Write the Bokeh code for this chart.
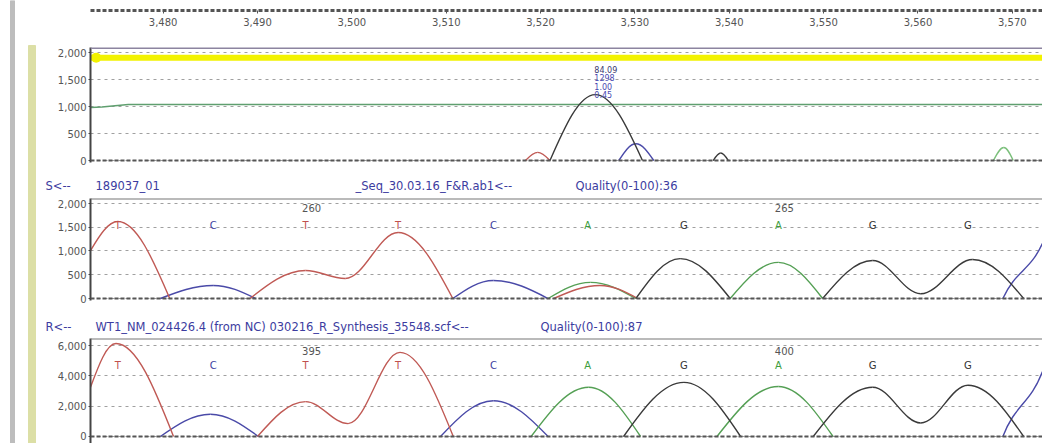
from bokeh.plotting import figure
from bokeh.layouts import row, column
from bokeh.models import Range1d, FixedTicker, NumeralTickFormatter, ColumnDataSource, Span
from bokeh.core.properties import value
from bokeh.embed import file_html
from bokeh.resources import INLINE

# ---------------- data ----------------
scan_ticks = [3480, 3490, 3500, 3510, 3520, 3530, 3540, 3550, 3560, 3570]
x_view = [3472.3, 3573.2]

# top panel (quality / peak view)
top_black_x = [3521.0, 3525.8, 3530.8, 3538.3, 3539.1, 3539.9]
top_black_y = [0, 1220, 0, 0, 140, 0]
top_red_x = [3518.4, 3519.7, 3521.0]
top_red_y = [0, 150, 0]
top_blue_x = [3528.3, 3530.1, 3532.0]
top_blue_y = [0, 310, 0]
top_green_x = [3568.0, 3569.1, 3570.1]
top_green_y = [0, 240, 0]
top_level_x = [3472.3, 3473.5, 3476.3, 3573.2]
top_level_y = [980, 990, 1037, 1037]
top_yellow_x = [3472.3, 3573.2]
top_yellow_y = [1905, 1905]
peak_info = ["0.45", "1.00", "1298", "84.09"]

# sample trace S
S_header = ["S<--", "189037_01", "_Seq_30.03.16_F&R.ab1<--", "Quality(0-100):36"]
S_T_x = [3472.3, 3475.2, 3480.7, 3489.2, 3495.1, 3499.3, 3504.9, 3510.7, 3521.4, 3526.3, 3530.3]
S_T_y = [1010, 1620, 0, 0, 590, 420, 1390, 0, 0, 275, 0]
S_C_x = [3479.7, 3485.3, 3489.8, 3510.7, 3515.0, 3520.8, 3569.0, 3573.2]
S_C_y = [0, 275, 0, 0, 380, 0, 0, 1160]
S_A_x = [3520.8, 3525.3, 3530.1, 3540.1, 3545.2, 3549.9]
S_A_y = [0, 340, 0, 0, 760, 0]
S_G_x = [3530.1, 3534.8, 3540.1, 3549.9, 3555.2, 3560.3, 3565.8, 3571.2]
S_G_y = [0, 840, 0, 0, 800, 100, 820, 0]
S_index_labels = ["260", "265"]

# reference trace R
R_header = ["R<--", "WT1_NM_024426.4 (from NC) 030216_R_Synthesis_35548.scf<--", "Quality(0-100):87"]
R_T_x = [3472.3, 3475.0, 3481.1, 3490.0, 3495.1, 3499.6, 3505.1, 3510.75]
R_T_y = [3250, 6130, 0, 0, 2300, 850, 5550, 0]
R_C_x = [3479.7, 3485.0, 3490.1, 3509.4, 3515.0, 3520.8, 3569.0, 3573.2]
R_C_y = [0, 1470, 0, 0, 2360, 0, 0, 4280]
R_A_x = [3519.0, 3525.1, 3530.6, 3538.7, 3545.2, 3551.0]
R_A_y = [0, 3250, 0, 0, 3300, 0]
R_G_x = [3528.8, 3535.2, 3541.2, 3548.9, 3555.2, 3560.3, 3565.3, 3571.2]
R_G_y = [0, 3570, 0, 0, 3250, 890, 3380, 0]
R_index_labels = ["395", "400"]

bases = ["T", "C", "T", "T", "C", "A", "G", "A", "G", "G"]
base_x = [3475.2, 3485.3, 3495.1, 3504.9, 3515.0, 3525.0, 3535.2, 3545.2, 3555.2, 3565.3]
index_base_pos = [2, 7]

ticks_2000 = [0, 500, 1000, 1500, 2000]
ticks_6000 = [0, 2000, 4000, 6000]

# ---------------- styles / layout ----------------
FONT = "DejaVu Sans"
COL = {"T": "#c05a55", "C": "#4a4aa8", "A": "#55a055", "G": "#3a3a3a"}
LBL = {"T": "#c0504d", "C": "#4040a0", "A": "#3c9c3c", "G": "#333333"}
HDR_COLOR = "#3c3ca0"
W = 999          # column width (page x 43..1042)
BORDER_L = 47    # frame starts at page x 90
FRAME_X = (90, 1042)


def trace_source(xs, ys):
    d = dict(x0=[], y0=[], x1=[], y1=[], cx0=[], cy0=[], cx1=[], cy1=[])
    n = len(xs)
    for i in range(n - 1):
        xa, ya, xb, yb = xs[i], ys[i], xs[i + 1], ys[i + 1]
        if ya == 0 and yb == 0:
            continue
        dx, dy = xb - xa, yb - ya
        if ya == 0 or i == 0:
            c0 = (xa + 0.326 * dx, ya + 0.512 * dy)
        else:
            c0 = (xa + 0.36 * dx, ya)
        if yb == 0 or i + 1 == n - 1:
            c1 = (xb - 0.326 * dx, yb - 0.512 * dy)
        else:
            c1 = (xb - 0.36 * dx, yb)
        d["x0"].append(xa); d["y0"].append(ya)
        d["x1"].append(xb); d["y1"].append(yb)
        d["cx0"].append(c0[0]); d["cy0"].append(c0[1])
        d["cx1"].append(c1[0]); d["cy1"].append(c1[1])
    return ColumnDataSource(d)


def draw_trace(p, xs, ys, color, width=1.4):
    p.bezier(x0="x0", y0="y0", x1="x1", y1="y1", cx0="cx0", cy0="cy0",
             cx1="cx1", cy1="cy1", source=trace_source(xs, ys),
             line_color=color, line_width=width)


def make_panel(frame_h, bottom_border, y0, y1, ticks, top_color, top_width):
    p = figure(width=W, height=frame_h + bottom_border, x_range=Range1d(*x_view),
               y_range=Range1d(y0, y1),
               output_backend="svg", toolbar_location=None, x_axis_location=None,
               min_border_left=BORDER_L, min_border_right=0, min_border_top=0,
               min_border_bottom=bottom_border)
    p.outline_line_color = None
    p.xgrid.visible = False
    p.yaxis.ticker = FixedTicker(ticks=ticks)
    p.yaxis.formatter = NumeralTickFormatter(format="0,0")
    p.yaxis.major_label_text_font = FONT
    p.yaxis.major_label_text_font_size = "10px"
    p.yaxis.major_label_text_color = "#555555"
    p.yaxis.axis_line_color = "#444444"
    p.yaxis.axis_line_width = 2
    p.yaxis.major_tick_in = 0
    p.yaxis.major_tick_out = 2
    p.yaxis.major_tick_line_color = "#444444"
    p.yaxis.minor_tick_line_color = None
    p.yaxis.major_label_standoff = 2
    p.ygrid.grid_line_color = "#a0a0a0"
    p.ygrid.grid_line_dash = "3 4"
    p.ygrid.grid_line_width = 1
    p.add_layout(Span(location=0, dimension="width", line_color="#555555",
                      line_width=2, line_dash="4 2"))
    p.add_layout(Span(location=y1, dimension="width", line_color=top_color,
                      line_width=top_width))
    return p


def make_header(y_top, y_bottom, texts, xs, ypos):
    # ranges in page pixels; texts drawn at annotation level (not clipped to frame)
    h = figure(width=W, height=y_bottom - y_top, x_range=Range1d(*FRAME_X),
               y_range=Range1d(y_bottom, y_top),
               output_backend="svg", toolbar_location=None, x_axis_location=None,
               y_axis_location=None, min_border_left=BORDER_L, min_border_right=0,
               min_border_top=0, min_border_bottom=0)
    h.outline_line_color = None
    h.grid.visible = False
    h.text(x=xs, y=[ypos] * len(texts), text=texts, text_font=value(FONT),
           text_font_size="11.5px", text_color=HDR_COLOR, text_baseline="middle",
           text_align="left", level="annotation")
    return h


def add_bases(p, row_y, idx_y, idx_labels):
    p.text(x=base_x, y=[row_y] * len(bases), text=bases,
           text_color=[LBL[b] for b in bases], text_font=value(FONT),
           text_font_size="10px", text_align="center", text_baseline="middle")
    p.text(x=[base_x[i] for i in index_base_pos], y=[idx_y] * len(idx_labels),
           text=idx_labels, x_offset=6, text_color="#555555", text_font=value(FONT),
           text_font_size="10px", text_align="center", text_baseline="middle")


# ---------------- top axis (page y 0..47) ----------------
top = figure(width=W, height=47, x_range=Range1d(*x_view), y_range=Range1d(0, 1),
             output_backend="svg", toolbar_location=None, y_axis_location=None,
             min_border_left=BORDER_L, min_border_right=0, min_border_top=8,
             min_border_bottom=37)
top.outline_line_color = None
top.grid.visible = False
top.xaxis.ticker = FixedTicker(ticks=scan_ticks)
top.xaxis.formatter = NumeralTickFormatter(format="0,0")
top.xaxis.major_label_text_font = FONT
top.xaxis.major_label_text_font_size = "10px"
top.xaxis.major_label_text_color = "#555555"
top.xaxis.axis_line_color = "#555555"
top.xaxis.axis_line_width = 3
top.xaxis.axis_line_dash = "4 2"
top.xaxis.major_tick_in = 0
top.xaxis.major_tick_out = 3
top.xaxis.major_tick_line_color = "#555555"
top.xaxis.minor_tick_line_color = None
top.xaxis.major_label_standoff = 4

# ---------------- panel 1 (frame page y 47..162, figure to 167) ----------------
p1 = make_panel(115, 5, -37, 2093, ticks_2000, "#8c84a0", 3)
p1.line(top_yellow_x, top_yellow_y, line_color="#f2f200", line_width=6)
p1.scatter([top_yellow_x[0] + 0.6], [top_yellow_y[0]], size=10, marker="circle",
           fill_color="#f2f200", line_color=None)
p1.line(top_level_x, top_level_y, line_color="#5f9f6f", line_width=1.5)
draw_trace(p1, top_red_x, top_red_y, COL["T"])
draw_trace(p1, top_blue_x, top_blue_y, COL["C"])
draw_trace(p1, top_green_x, top_green_y, "#7cc07c")
draw_trace(p1, top_black_x, top_black_y, COL["G"])
units_per_px1 = 2000 / 108.0
pk = top_black_y.index(max(top_black_y))
p1.text(x=[top_black_x[pk] - 0.1] * 4,
        y=[top_black_y[pk] + 8.4 * i * units_per_px1 for i in range(4)],
        text=peak_info, text_color=["#4a4ab0", "#4a4ab0", "#4a4ab0", "#3a3a70"],
        text_font=value(FONT), text_font_size="8px", text_align="left",
        text_baseline="middle")

# ---------------- panel 2 ----------------
h2 = make_header(167, 198, S_header, [45, 95, 355, 575], 185)
p2 = make_panel(102, 5, -42, 2105, ticks_2000, "#777777", 2)
draw_trace(p2, S_C_x, S_C_y, COL["C"])
draw_trace(p2, S_A_x, S_A_y, COL["A"])
draw_trace(p2, S_T_x, S_T_y, COL["T"])
draw_trace(p2, S_G_x, S_G_y, COL["G"])
add_bases(p2, 1537, 1895, S_index_labels)

# ---------------- panel 3 ----------------
h3 = make_header(305, 338, R_header, [45, 95, 540], 326)
p3 = make_panel(105, 0, -462, 6462, ticks_6000, "#777777", 2)
draw_trace(p3, R_C_x, R_C_y, COL["C"])
draw_trace(p3, R_A_x, R_A_y, COL["A"])
draw_trace(p3, R_T_x, R_T_y, COL["T"])
draw_trace(p3, R_G_x, R_G_y, COL["G"])
add_bases(p3, 4680, 5670, R_index_labels)

# ---------------- left decoration (page x 0..43) ----------------
left = figure(width=43, height=443, x_range=Range1d(0, 43), y_range=Range1d(443, 0),
              output_backend="svg", toolbar_location=None, x_axis_location=None,
              y_axis_location=None, min_border_left=0, min_border_right=0,
              min_border_top=0, min_border_bottom=0)
left.outline_line_color = None
left.grid.visible = False
left.quad(left=[10], right=[14], bottom=[443], top=[0], color="#bdbdbd")
left.quad(left=[28], right=[35], bottom=[443], top=[45], color="#dcdfa6")

layout = row(left, column(top, p1, h2, p2, h3, p3, spacing=0), spacing=0)

open("out.html", "w").write(file_html(layout, INLINE))
